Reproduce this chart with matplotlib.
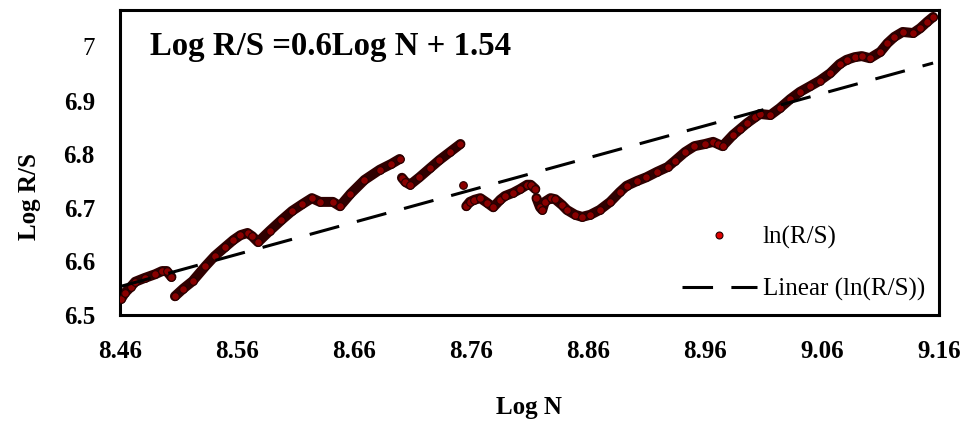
import matplotlib
matplotlib.use("Agg")
import matplotlib.pyplot as plt
from matplotlib.lines import Line2D
import numpy as np

# ---- data (Log N, Log R/S) ----
seg1_x = [8.461, 8.464, 8.469, 8.473, 8.481, 8.490, 8.496, 8.500, 8.504]
seg1_y = [6.530, 6.541, 6.552, 6.562, 6.569, 6.576, 6.582, 6.582, 6.571]

seg2_x = [8.507, 8.514, 8.522, 8.533, 8.541, 8.550, 8.557, 8.563, 8.569, 8.573,
          8.578, 8.588, 8.598, 8.607, 8.616, 8.624, 8.631, 8.642, 8.648, 8.657,
          8.669, 8.682, 8.692, 8.699]
seg2_y = [6.535, 6.549, 6.563, 6.591, 6.610, 6.627, 6.640, 6.649, 6.653, 6.647,
          6.636, 6.657, 6.677, 6.694, 6.707, 6.718, 6.711, 6.711, 6.703, 6.726,
          6.752, 6.771, 6.782, 6.791]

seg3_x = [8.701, 8.704, 8.708, 8.716, 8.725, 8.733, 8.742, 8.751]
seg3_y = [6.756, 6.748, 6.743, 6.757, 6.774, 6.789, 6.804, 6.819]

single_x = [8.753]
single_y = [6.743]

seg4_x = [8.756, 8.759, 8.763, 8.768, 8.774, 8.779, 8.785, 8.789, 8.796, 8.802,
          8.808, 8.811, 8.815]
seg4_y = [6.703, 6.711, 6.715, 6.718, 6.709, 6.701, 6.715, 6.722, 6.728, 6.735,
          6.743, 6.743, 6.735]

seg5_x = [8.816, 8.819, 8.821, 8.823, 8.828, 8.832, 8.838, 8.842, 8.849, 8.855,
          8.862, 8.870, 8.879, 8.887, 8.893, 8.902, 8.910, 8.919, 8.928, 8.934,
          8.943, 8.951, 8.960, 8.967, 8.971, 8.975, 8.984, 8.990, 8.996, 9.003,
          9.007, 9.016, 9.024, 9.033, 9.041, 9.050, 9.058, 9.067, 9.075, 9.081,
          9.088, 9.094, 9.101, 9.110, 9.116, 9.122, 9.129, 9.138, 9.144, 9.150,
          9.155]
seg5_y = [6.718, 6.701, 6.696, 6.711, 6.718, 6.716, 6.705, 6.696, 6.687, 6.683,
          6.687, 6.696, 6.711, 6.729, 6.741, 6.750, 6.757, 6.767, 6.776, 6.787,
          6.804, 6.815, 6.819, 6.823, 6.819, 6.815, 6.836, 6.847, 6.858, 6.869,
          6.875, 6.873, 6.886, 6.903, 6.916, 6.927, 6.937, 6.951, 6.968, 6.976,
          6.981, 6.983, 6.979, 6.991, 7.007, 7.019, 7.028, 7.026, 7.035, 7.047,
          7.056]

trend_slope = 0.6
trend_intercept = 1.477

x_ticks = [8.46, 8.56, 8.66, 8.76, 8.86, 8.96, 9.06, 9.16]
x_tick_labels = ["8.46", "8.56", "8.66", "8.76", "8.86", "8.96", "9.06", "9.16"]
y_ticks = [6.5, 6.6, 6.7, 6.8, 6.9, 7.0]
y_tick_labels = ["6.5", "6.6", "6.7", "6.8", "6.9", "7"]

equation_text = "Log R/S =0.6Log N + 1.54"
series_label = "ln(R/S)"
trend_label = "Linear (ln(R/S))"

# ---- figure ----
plt.rcParams['font.family'] = ['Liberation Serif', 'DejaVu Serif']
fig = plt.figure(figsize=(9.66, 4.23), dpi=100)
ax = fig.add_axes([0.1242, 0.2553, 0.8478, 0.7211])

band_color = '#300000'
face_color = '#8a0000'
edge_color = '#250000'

segments = [(seg1_x, seg1_y), (seg2_x, seg2_y), (seg3_x, seg3_y),
            (seg4_x, seg4_y), (seg5_x, seg5_y)]
for sx, sy in segments:
    ax.plot(sx, sy, color=band_color, lw=7.2, solid_capstyle='round',
            solid_joinstyle='round', zorder=2)
all_x = seg1_x + seg2_x + seg3_x + single_x + seg4_x + seg5_x
all_y = seg1_y + seg2_y + seg3_y + single_y + seg4_y + seg5_y
ax.plot(all_x, all_y, ls='none', marker='o', ms=5.5, mfc=face_color,
        mec=edge_color, mew=0.8, zorder=3)

xx = np.array([min(all_x), max(all_x)])
ax.plot(xx, trend_slope * xx + trend_intercept, color='black', lw=2.2,
        dashes=(10, 6), zorder=4)

ax.set_xlim(8.46, 9.16)
ax.set_ylim(6.5, 7.069)
ax.set_xticks(x_ticks)
ax.set_xticklabels(x_tick_labels)
ax.set_yticks(y_ticks)
ax.set_yticklabels(y_tick_labels)
ax.tick_params(length=0, labelsize=18)
ax.tick_params(axis='x', pad=18)
ax.tick_params(axis='y', pad=18)
for lab in ax.get_xticklabels() + ax.get_yticklabels():
    lab.set_fontweight('bold')
ax.get_yticklabels()[-1].set_fontweight('normal')
for sp in ax.spines.values():
    sp.set_linewidth(2.2)
    sp.set_color('black')

ax.set_xlabel("Log N", fontsize=18, fontweight='bold', labelpad=24)
ax.set_ylabel("Log R/S", fontsize=18, fontweight='bold')
ax.yaxis.set_label_coords(-0.097, 0.39)

ax.text(0.037, 0.88, equation_text, transform=ax.transAxes, fontsize=23.6,
        fontweight='bold', ha='left', va='center')

handles = [Line2D([], [], ls='none', marker='o', ms=5, mfc='#e00000',
                  mec=edge_color, mew=0.8),
           Line2D([], [], color='black', lw=2.2, dashes=(10, 6))]
leg = ax.legend(handles, [series_label, trend_label], loc='lower right',
                frameon=False, fontsize=18, handlelength=3.0,
                handletextpad=0.25, labelspacing=1.15,
                bbox_to_anchor=(1.0, 0.0), borderaxespad=0.15)

fig.savefig("out.png", dpi=100)
